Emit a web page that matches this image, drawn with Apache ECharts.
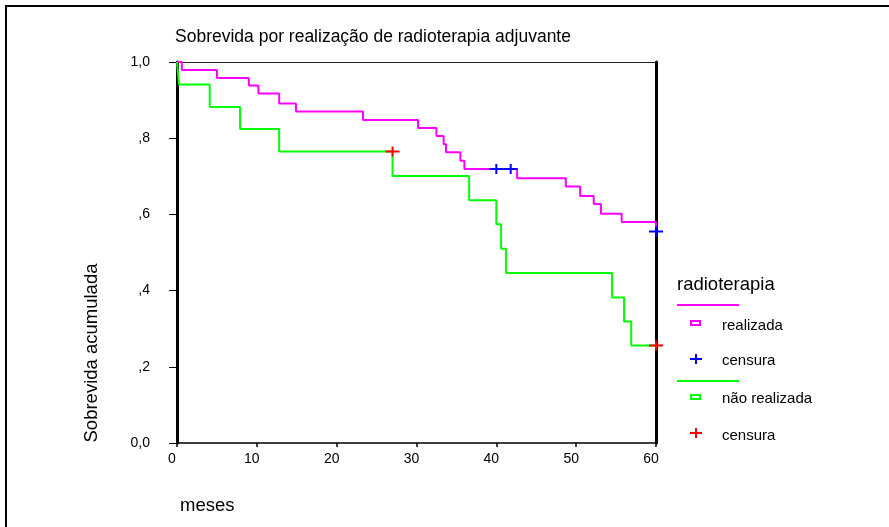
<!DOCTYPE html>
<html>
<head>
<meta charset="utf-8">
<script src="https://cdn.jsdelivr.net/npm/echarts@6/dist/echarts.min.js"></script>
<style>
  html, body { margin: 0; padding: 0; background: #fff; }
  #chart { width: 889px; height: 527px; }
</style>
</head>
<body>
<div id="chart"></div>
<script>
// curva "realizada" (meses, sobrevida acumulada)
const realizadaMeses = [0, 0.6, 5.0, 9.0, 10.2, 12.8, 14.9, 23.3, 30.2, 32.5, 33.4, 33.7, 35.5, 36.0, 42.6, 48.7, 50.5, 52.2, 53.1, 55.7, 60, 60];
const realizadaSobrevida = [1, 0.979, 0.958, 0.938, 0.917, 0.891, 0.870, 0.848, 0.827, 0.806, 0.784, 0.763, 0.741, 0.719, 0.695, 0.673, 0.648, 0.627, 0.602, 0.580, 0.580, 0.555];
const realizadaCensuraMeses = [40.0, 41.8, 60];
const realizadaCensuraSobrevida = [0.719, 0.719, 0.555];

// curva "não realizada"
const naoMeses = [0, 0.25, 4.1, 7.9, 12.8, 27.0, 36.6, 40.0, 40.6, 41.2, 54.5, 56.0, 56.9, 60];
const naoSobrevida = [1, 0.941, 0.882, 0.824, 0.765, 0.701, 0.637, 0.574, 0.510, 0.446, 0.382, 0.319, 0.256, 0.256];
const naoCensuraMeses = [27.0, 60];
const naoCensuraSobrevida = [0.765, 0.256];

const yTickLabels = { "1": "1,0", "0.8": ",8", "0.6": ",6", "0.4": ",4", "0.2": ",2", "0": "0,0" };

const FONT = "Liberation Sans, Arial, sans-serif";
const plus = "path://M0,4 L14,4 L14,6 L0,6 Z M6,0 L8,0 L8,10 L6,10 Z";

function pares(xs, ys) {
  return xs.map((x, i) => [x, ys[i]]);
}

let chart = echarts.init(document.getElementById("chart"));

function legendPlus(cx, cy, color) {
  return [
    { type: "line", shape: { x1: cx - 6, y1: cy, x2: cx + 6, y2: cy }, style: { stroke: color, lineWidth: 2 } },
    { type: "line", shape: { x1: cx, y1: cy - 5, x2: cx, y2: cy + 5 }, style: { stroke: color, lineWidth: 2 } }
  ];
}
function legendText(x, y, txt, size) {
  return { type: "text", x: x, y: y, style: { text: txt, fontSize: size, fontFamily: FONT, fill: "#000", align: "left", verticalAlign: "middle" } };
}

let options = {
  animation: false,
  title: {
    text: "Sobrevida por realização de radioterapia adjuvante",
    left: 170,
    top: 23,
    textStyle: { color: "#000", fontWeight: "normal", fontSize: 17.5, fontFamily: FONT }
  },
  grid: { left: 177, right: 233, top: 62, bottom: 84 },
  xAxis: [
    {
      type: "value", min: 0, max: 60, interval: 10,
      axisLine: { onZero: false, lineStyle: { color: "#000", width: 1.5 } },
      axisTick: { length: 4, lineStyle: { color: "#000", width: 1.5 } },
      axisLabel: { color: "#000", fontSize: 14, fontFamily: FONT, margin: 9, padding: [0, 10, 0, 0] },
      splitLine: { show: false }
    },
    {
      type: "value", min: 0, max: 60, position: "top",
      axisLine: { show: true, onZero: false, lineStyle: { color: "#222", width: 1 } },
      axisTick: { show: false }, axisLabel: { show: false }, splitLine: { show: false }
    }
  ],
  yAxis: [
    {
      type: "value", min: 0, max: 1, interval: 0.2,
      axisLine: { show: true, onZero: false, lineStyle: { color: "#000", width: 3 } },
      axisTick: { show: true, length: 8, lineStyle: { color: "#000", width: 1 } },
      axisLabel: {
        color: "#000", fontSize: 14, fontFamily: FONT, margin: 27,
        formatter: v => yTickLabels[String(Math.round(v * 10) / 10)]
      },
      splitLine: { show: false }
    },
    {
      type: "value", min: 0, max: 1, position: "right",
      axisLine: { show: true, onZero: false, lineStyle: { color: "#000", width: 3 } },
      axisTick: { show: false }, axisLabel: { show: false }, splitLine: { show: false }
    }
  ],
  series: [
    {
      type: "line", name: "realizada", step: "end", symbol: "none",
      data: pares(realizadaMeses, realizadaSobrevida),
      lineStyle: { color: "#ff00ff", width: 2 }, z: 2
    },
    {
      type: "line", name: "não realizada", step: "end", symbol: "none",
      data: pares(naoMeses, naoSobrevida),
      lineStyle: { color: "#00ff00", width: 2 }, z: 2
    },
    {
      type: "scatter", name: "censura", symbol: plus, symbolSize: [14, 10],
      data: pares(realizadaCensuraMeses, realizadaCensuraSobrevida),
      itemStyle: { color: "#0000ff", opacity: 1 }, z: 5
    },
    {
      type: "scatter", name: "censura", symbol: plus, symbolSize: [14, 10],
      data: pares(naoCensuraMeses, naoCensuraSobrevida),
      itemStyle: { color: "#ff0000", opacity: 1 }, z: 5
    }
  ],
  graphic: [
    { type: "rect", shape: { x: 6, y: 6, width: 1000, height: 1000 }, style: { fill: "none", stroke: "#000", lineWidth: 2 }, silent: true },
    {
      type: "text", x: 92, y: 353, rotation: Math.PI / 2,
      style: { text: "Sobrevida acumulada", fontSize: 18.5, fontFamily: FONT, fill: "#000", align: "center", verticalAlign: "middle" }
    },
    legendText(180, 506, "meses", 18.5),
    legendText(677, 285, "radioterapia", 18.5),
    { type: "line", shape: { x1: 677, y1: 305, x2: 739, y2: 305 }, style: { stroke: "#ff00ff", lineWidth: 2 } },
    { type: "rect", shape: { x: 691, y: 321, width: 9, height: 4 }, style: { fill: "none", stroke: "#ff00ff", lineWidth: 2 } },
    legendText(722, 326, "realizada", 15),
    ...legendPlus(696, 359, "#0000ff"),
    legendText(722, 361, "censura", 15),
    { type: "line", shape: { x1: 677, y1: 381, x2: 739, y2: 381 }, style: { stroke: "#00ff00", lineWidth: 2 } },
    { type: "rect", shape: { x: 691, y: 395, width: 9, height: 4 }, style: { fill: "none", stroke: "#00ff00", lineWidth: 2 } },
    legendText(722, 399, "não realizada", 15),
    ...legendPlus(696, 433, "#ff0000"),
    legendText(722, 436, "censura", 15)
  ]
};

chart.setOption(options, true);
window.onresize = function() {
  chart.resize();
};
</script>
</body>
</html>
